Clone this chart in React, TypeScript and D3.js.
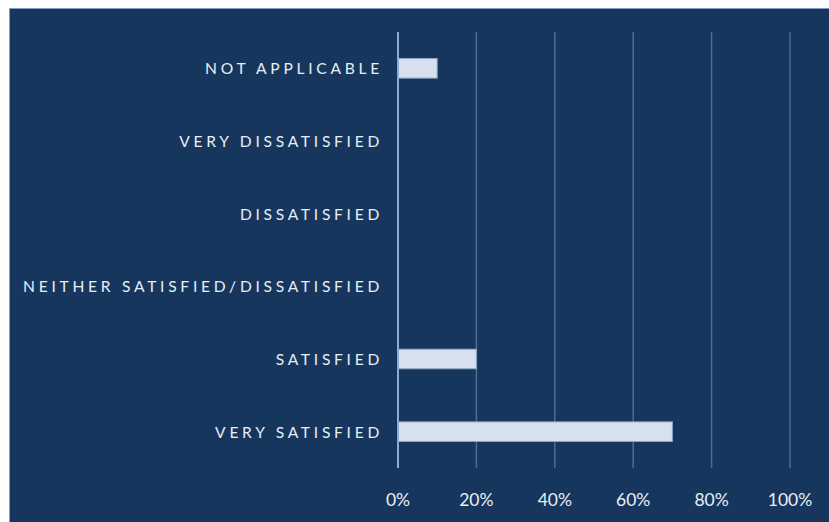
import React from "react";
import * as d3 from "d3";

const categories = [
  "NOT APPLICABLE",
  "VERY DISSATISFIED",
  "DISSATISFIED",
  "NEITHER SATISFIED/DISSATISFIED",
  "SATISFIED",
  "VERY SATISFIED",
];
const values = [10, 0, 0, 0, 20, 70];
const ticks = [0, 20, 40, 60, 80, 100];

export default function App() {
  const W = 829;
  const H = 522;
  const x = d3.scaleLinear().domain([0, 100]).range([398, 790]);
  const y = d3.scaleBand<string>().domain(categories).range([32, 468]).paddingInner(0.73).paddingOuter(0.365);
  const bg = "#17365d";
  return (
    <svg
      width={W}
      height={H}
      style={{ position: "absolute", left: 0, top: 0, background: "#ffffff" }}
    >
      <rect x={9.5} y={8.5} width={W} height={H} fill={bg} stroke="#7e9cc4" strokeWidth={1} />
      {ticks.slice(1).map((t) => (
        <line key={t} x1={x(t)} x2={x(t)} y1={32} y2={468} stroke="#4f6d93" strokeWidth={1.5} />
      ))}
      {categories.map((c, i) =>
        values[i] > 0 ? (
          <rect
            key={c}
            x={x(0)}
            y={y(c)!}
            width={x(values[i]) - x(0)}
            height={y.bandwidth()}
            fill="#d6e0ef"
            stroke="#8da3c4"
            strokeWidth={1}
          />
        ) : null
      )}
      <line x1={x(0)} x2={x(0)} y1={32} y2={468} stroke="#8fabd0" strokeWidth={2} />
      {categories.map((c) => (
        <text
          key={c}
          x={383}
          y={y(c)! + y.bandwidth() / 2}
          textAnchor="end"
          dominantBaseline="central"
          fill="#e8eef6"
          fontFamily="Lato, 'Open Sans', sans-serif"
          fontSize={15.6}
          letterSpacing={3.72}
        >
          {c}
        </text>
      ))}
      {ticks.map((t) => (
        <text
          key={t}
          x={x(t)}
          y={499}
          textAnchor="middle"
          dominantBaseline="central"
          fill="#e8eef6"
          fontFamily="Lato, 'Open Sans', sans-serif"
          fontSize={17.5}
        >
          {t}%
        </text>
      ))}
    </svg>
  );
}
